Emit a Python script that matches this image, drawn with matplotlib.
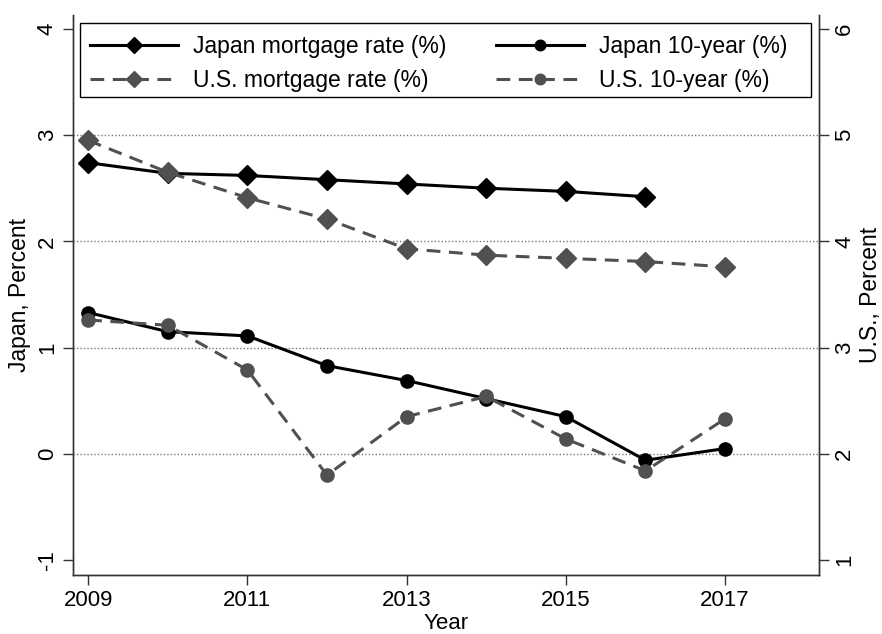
import matplotlib.pyplot as plt
import matplotlib as mpl
from matplotlib.patches import Rectangle

mpl.use('Agg')
plt.rcParams['font.family'] = ['Liberation Sans', 'DejaVu Sans']
plt.rcParams['axes.unicode_minus'] = False

years = [2009, 2010, 2011, 2012, 2013, 2014, 2015, 2016, 2017]
jp_mortgage = [2.74, 2.64, 2.62, 2.58, 2.54, 2.50, 2.47, 2.42]  # through 2016
us_mortgage = [4.95, 4.65, 4.41, 4.21, 3.93, 3.87, 3.84, 3.81, 3.76]
jp_10y = [1.33, 1.15, 1.11, 0.83, 0.69, 0.52, 0.35, -0.06, 0.05]
us_10y = [3.26, 3.21, 2.79, 1.80, 2.35, 2.54, 2.14, 1.84, 2.33]

grey = '#505050'

fig = plt.figure(figsize=(8.82, 6.34), dpi=100)
ax = fig.add_axes([0.0828, 0.0931, 0.8458, 0.8832])
ax2 = ax.twinx()

# Japan on left axis
l1, = ax.plot(years[:len(jp_mortgage)], jp_mortgage, color='black', lw=2.2,
              marker='D', markersize=10.5, label='Japan mortgage rate (%)')
l3, = ax.plot(years, jp_10y, color='black', lw=2.2,
              marker='o', markersize=9.5, label='Japan 10-year (%)')

# U.S. on right axis
l2, = ax2.plot(years, us_mortgage, color=grey, lw=2.2, dashes=(4.5, 2.8),
               marker='D', markersize=10.5, label='U.S. mortgage rate (%)')
l4, = ax2.plot(years, us_10y, color=grey, lw=2.2, dashes=(4.5, 2.8),
               marker='o', markersize=9.5, label='U.S. 10-year (%)')

ax.set_xlim(2008.81, 2018.18)
ax.set_ylim(-1.14, 4.13)
ax2.set_ylim(0.86, 6.13)

for y in [0, 1, 2, 3]:
    ax.axhline(y, color='#777777', lw=1.0, ls=(0, (1, 1.5)), zorder=0)

ax.set_xticks([2009, 2011, 2013, 2015, 2017])
ax.set_yticks([-1, 0, 1, 2, 3, 4])
ax2.set_yticks([1, 2, 3, 4, 5, 6])

for a in (ax, ax2):
    a.spines['top'].set_visible(False)
    for s in a.spines.values():
        s.set_linewidth(1.0)
        s.set_color('#333333')
    a.tick_params(length=7, width=1.0, color='#333333', labelsize=16, pad=4)

for lab in ax.get_yticklabels() + ax2.get_yticklabels():
    lab.set_rotation(90)
    lab.set_va('center')

ax.set_xlabel('Year', fontsize=16, labelpad=1)
ax.set_ylabel('Japan, Percent', fontsize=16.5, labelpad=4)
ax2.set_ylabel('U.S., Percent', fontsize=16.5, labelpad=3)

# legend box drawn separately so its edges sit where wanted
box = Rectangle((0.0094, 0.8536), 0.9799, 0.1321, transform=ax2.transAxes,
                facecolor='white', edgecolor='black', lw=1.0, zorder=4)
ax2.add_patch(box)

leg = ax2.legend(handles=[l1, l2, l3, l4], ncol=2, loc='center left',
                 bbox_to_anchor=(0.0228, 0.9134), frameon=False,
                 fontsize=16.5, handlelength=3.84, handletextpad=0.65,
                 columnspacing=2.18, labelspacing=0.52, borderpad=0,
                 borderaxespad=0, markerscale=0.8)
leg.set_zorder(5)

plt.savefig('out.png', dpi=100)
